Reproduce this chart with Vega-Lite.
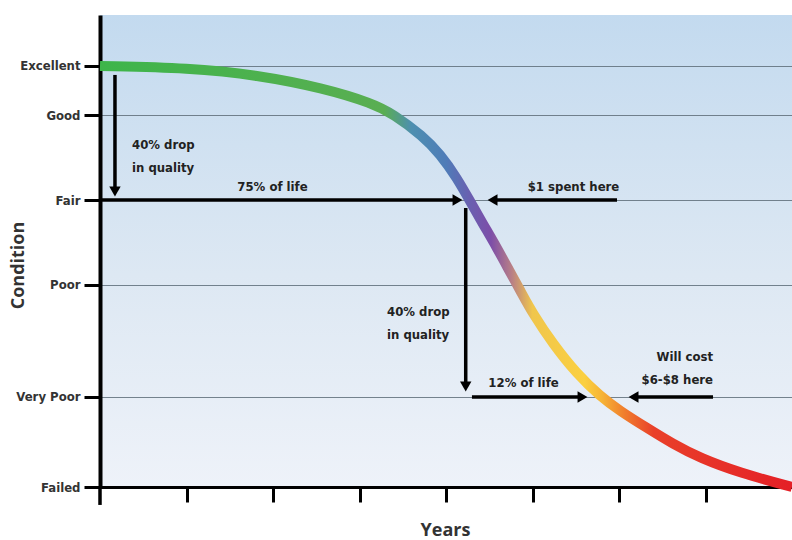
{
  "$schema": "https://vega.github.io/schema/vega-lite/v6.json",
  "width": 692,
  "height": 472,
  "autosize": "none",
  "padding": {"left": 100, "top": 15, "right": 0, "bottom": 53},
  "background": "white",
  "config": {
    "view": {
      "stroke": null,
      "fill": {"gradient": "linear", "x1": 0, "y1": 0, "x2": 0, "y2": 1,
        "stops": [{"offset": 0, "color": "#c3daef"}, {"offset": 0.55, "color": "#dde8f3"}, {"offset": 1, "color": "#eef2f9"}]}
    },
    "font": "Liberation Sans Narrow, DejaVu Sans Condensed, sans-serif"
  },
  "datasets": {
    "curve": [
      {"x": 0, "y": 89.19}, {"x": 1.04, "y": 88.77}, {"x": 1.815, "y": 87.29}, {"x": 2.578, "y": 84.53},
      {"x": 3.156, "y": 81.25}, {"x": 3.387, "y": 79.03},
      {"x": 3.734, "y": 74.36}, {"x": 3.931, "y": 70.55}, {"x": 4.127, "y": 65.47}, {"x": 4.277, "y": 60.59},
      {"x": 4.428, "y": 55.72}, {"x": 4.59, "y": 50.64}, {"x": 4.74, "y": 45.55}, {"x": 4.855, "y": 41.74},
      {"x": 5.006, "y": 36.65}, {"x": 5.237, "y": 30.3}, {"x": 5.514, "y": 23.94}, {"x": 5.78, "y": 19.28},
      {"x": 6.012, "y": 16.1}, {"x": 6.324, "y": 12.5}, {"x": 6.624, "y": 9.11}, {"x": 6.936, "y": 6.14},
      {"x": 7.399, "y": 2.97}, {"x": 8.0, "y": 0}
    ],
    "shafts": [
      {"x": 0.173, "y": 87.3, "x2": 0.173, "y2": 63.5},
      {"x": 0, "y": 60.8, "x2": 4.1, "y2": 60.8},
      {"x": 4.57, "y": 60.8, "x2": 5.977, "y2": 60.8},
      {"x": 4.228, "y": 59.1, "x2": 4.228, "y2": 22.0},
      {"x": 4.3, "y": 19.07, "x2": 5.55, "y2": 19.07},
      {"x": 6.2, "y": 19.07, "x2": 7.087, "y2": 19.07},
      {"x": 0, "y": 0, "x2": 0, "y2": -3.8}
    ],
    "heads": [
      {"x": 0.173, "y": 62.6, "dir": "down"},
      {"x": 4.133, "y": 60.8, "dir": "right"},
      {"x": 4.538, "y": 60.8, "dir": "left"},
      {"x": 4.228, "y": 21.3, "dir": "down"},
      {"x": 5.578, "y": 19.07, "dir": "right"},
      {"x": 6.168, "y": 19.07, "dir": "left"}
    ],
    "labels": [
      {"x": 0.37, "y": 72.5, "text": "40% drop", "anchor": "left"},
      {"x": 0.37, "y": 67.6, "text": "in quality", "anchor": "left"},
      {"x": 1.994, "y": 63.6, "text": "75% of life", "anchor": "center"},
      {"x": 5.474, "y": 63.6, "text": "$1 spent here", "anchor": "center"},
      {"x": 3.318, "y": 37.1, "text": "40% drop", "anchor": "left"},
      {"x": 3.318, "y": 32.2, "text": "in quality", "anchor": "left"},
      {"x": 4.896, "y": 22.0, "text": "12% of life", "anchor": "center"},
      {"x": 7.087, "y": 27.5, "text": "Will cost", "anchor": "right"},
      {"x": 7.087, "y": 22.7, "text": "$6-$8 here", "anchor": "right"}
    ]
  },
  "encoding": {
    "x": {
      "field": "x", "type": "quantitative",
      "scale": {"domain": [0, 8], "nice": false, "zero": false},
      "axis": {
        "values": [1, 2, 3, 4, 5, 6, 7], "labels": false, "grid": false,
        "tickSize": 15, "tickWidth": 3, "tickColor": "black",
        "domainColor": "black", "domainWidth": 3,
        "title": "Years", "titleFontSize": 18, "titleFontWeight": "bold", "titleColor": "#333333",
        "titleFont": "Open Sans",
        "titleAnchor": "start", "titleAlign": "center", "titleBaseline": "middle", "titleX": 345, "titleY": 43
      }
    },
    "y": {
      "field": "y", "type": "quantitative",
      "scale": {"domain": [0, 100], "nice": false, "zero": false},
      "axis": {
        "values": [0, 19.07, 42.8, 60.8, 78.8, 89.2],
        "labelExpr": "datum.value > 85 ? 'Excellent' : datum.value > 70 ? 'Good' : datum.value > 50 ? 'Fair' : datum.value > 30 ? 'Poor' : datum.value > 10 ? 'Very Poor' : 'Failed'",
        "labelFontSize": 13, "labelFontWeight": "bold", "labelColor": "#333333", "labelPadding": 4,
        "tickSize": 16, "tickWidth": 3, "tickColor": "black",
        "domainColor": "black", "domainWidth": 4,
        "grid": true, "gridColor": "#5f6e7a", "gridWidth": 1, "gridOpacity": 0.85,
        "title": "Condition", "titleFontSize": 18, "titleFontWeight": "bold", "titleColor": "#333333",
        "titleFont": "Open Sans",
        "titleAngle": -90, "titleAlign": "center", "titleBaseline": "middle", "titleX": -82, "titleY": 250
      }
    }
  },
  "layer": [
    {
      "data": {"name": "curve"},
      "mark": {
        "type": "line", "interpolate": "basis", "strokeWidth": 10, "strokeCap": "butt",
        "stroke": {"gradient": "linear", "x1": 0, "y1": 0, "x2": 1, "y2": 0,
          "stops": [
            {"offset": 0, "color": "#3db54a"},
            {"offset": 0.41, "color": "#5aae52"},
            {"offset": 0.45, "color": "#4e8fb0"},
            {"offset": 0.5, "color": "#4f7cb8"},
            {"offset": 0.535, "color": "#6a5fb0"},
            {"offset": 0.565, "color": "#7d4ea8"},
            {"offset": 0.595, "color": "#b87f86"},
            {"offset": 0.625, "color": "#f0c64c"},
            {"offset": 0.7, "color": "#fbd040"},
            {"offset": 0.725, "color": "#f6b436"},
            {"offset": 0.76, "color": "#f07a2c"},
            {"offset": 0.8, "color": "#e9402a"},
            {"offset": 1, "color": "#e41f26"}
          ]}
      }
    },
    {
      "data": {"name": "shafts"},
      "mark": {"type": "rule", "color": "black", "strokeWidth": 3.5},
      "encoding": {
        "x2": {"field": "x2"},
        "y2": {"field": "y2"}
      }
    },
    {
      "data": {"name": "heads"},
      "mark": {"type": "point", "filled": true, "color": "black", "size": 130, "opacity": 1},
      "encoding": {
        "shape": {"field": "dir", "type": "nominal", "legend": null,
          "scale": {"domain": ["right", "left", "down"], "range": ["triangle-right", "triangle-left", "triangle-down"]}}
      }
    },
    {
      "data": {"name": "labels"},
      "transform": [{"filter": "datum.anchor == 'left'"}],
      "mark": {"type": "text", "align": "left", "baseline": "middle", "fontSize": 13, "fontWeight": "bold", "color": "#222222"},
      "encoding": {"text": {"field": "text"}}
    },
    {
      "data": {"name": "labels"},
      "transform": [{"filter": "datum.anchor == 'center'"}],
      "mark": {"type": "text", "align": "center", "baseline": "middle", "fontSize": 13, "fontWeight": "bold", "color": "#222222"},
      "encoding": {"text": {"field": "text"}}
    },
    {
      "data": {"name": "labels"},
      "transform": [{"filter": "datum.anchor == 'right'"}],
      "mark": {"type": "text", "align": "right", "baseline": "middle", "fontSize": 13, "fontWeight": "bold", "color": "#222222"},
      "encoding": {"text": {"field": "text"}}
    }
  ]
}
